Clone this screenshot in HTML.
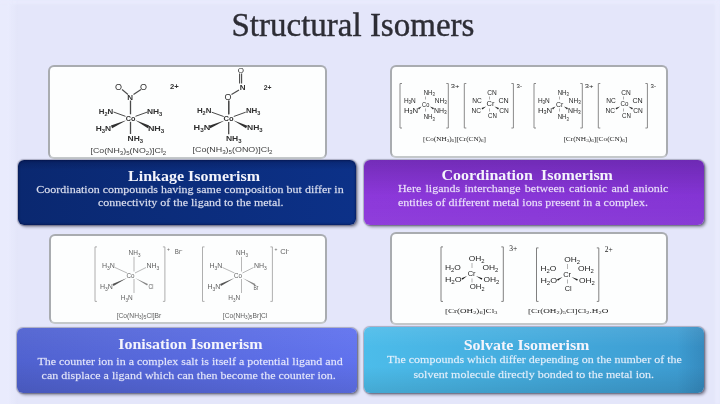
<!DOCTYPE html>
<html><head><meta charset="utf-8">
<style>
html,body{margin:0;padding:0;}
body{width:720px;height:404px;overflow:hidden;position:relative;background:#e4e6fa;font-family:"Liberation Serif",serif;}
.title{position:absolute;left:231.5px;top:8.6px;font-size:33px;line-height:33px;color:#2d2d35;white-space:nowrap;-webkit-text-stroke:0.4px #2d2d35;}
.wbox{position:absolute;background:#fdfefe;border:2px solid #a9acb0;border-bottom-color:#c4c8ca;border-radius:6px;box-sizing:border-box;}
.cbox{position:absolute;border-radius:7px;box-sizing:border-box;box-shadow:0 0 1px 0.5px rgba(40,40,70,0.3),2px 2px 3px rgba(30,30,50,0.45);border-radius:6px;}
.ln{position:absolute;color:#f4f4fc;white-space:nowrap;}
svg{position:absolute;left:0;top:0;}
#wrap{position:absolute;left:0;top:0;width:720px;height:404px;filter:blur(0.5px);}
</style></head><body>
<div id="wrap">
<div style="position:absolute;left:0;top:0;width:18px;height:404px;background:linear-gradient(to right,#e9ebfd,#e9ebfd 7px,rgba(233,235,253,0))"></div>
<div style="position:absolute;left:715px;top:0;width:5px;height:404px;background:#e9ebfd;filter:blur(1px)"></div>
<div style="position:absolute;left:0;top:0;width:720px;height:4px;background:#e9ebfd;filter:blur(1px)"></div>
<div class="title">Structural Isomers</div>
<div class="wbox" style="left:48px;top:65px;width:279px;height:94px;"></div>
<div class="wbox" style="left:389.5px;top:65px;width:278.5px;height:93px;"></div>
<div class="wbox" style="left:48.5px;top:234px;width:278.5px;height:90px;"></div>
<div class="wbox" style="left:390px;top:231.5px;width:278px;height:93.5px;"></div>
<svg width="720" height="404" viewBox="0 0 720 404">
<line x1="130.5" y1="100.5" x2="130.5" y2="134" stroke="#4a4a4a" stroke-width="1.3"/>
<line x1="113.5" y1="112" x2="126" y2="116.5" stroke="#4a4a4a" stroke-width="1.0"/>
<line x1="135" y1="116.5" x2="147.5" y2="112" stroke="#4a4a4a" stroke-width="1.0"/>
<polygon points="127,120 110.90,125.43 112.10,128.17" fill="#303030"/>
<polygon points="135,120 147.83,128.14 149.17,125.46" fill="#303030"/>
<rect x="125.5" y="114.3" width="10" height="7.5" fill="#fdfefe"/>
<text x="115.0" y="89.9" font-size="9" fill="#303030" font-family="Liberation Sans" font-weight="normal"><tspan font-size="9.00" dy="0.00">O</tspan></text>
<text x="140.0" y="89.9" font-size="9" fill="#303030" font-family="Liberation Sans" font-weight="normal"><tspan font-size="9.00" dy="0.00">O</tspan></text>
<text x="127.3" y="100.2" font-size="8" fill="#303030" font-family="Liberation Sans" font-weight="bold"><tspan font-size="8.00" dy="0.00">N</tspan></text>
<line x1="122" y1="89.5" x2="128" y2="94.5" stroke="#4a4a4a" stroke-width="1.1"/>
<line x1="141" y1="89.5" x2="133.5" y2="94.5" stroke="#4a4a4a" stroke-width="1.1"/>
<text x="170.0" y="89.4" font-size="7.5" fill="#303030" font-family="Liberation Sans" font-weight="bold" textLength="8.8" lengthAdjust="spacingAndGlyphs"><tspan font-size="7.50" dy="0.00">2+</tspan></text>
<text x="98.7" y="113.7" font-size="8" fill="#303030" font-family="Liberation Sans" font-weight="bold" textLength="14.5" lengthAdjust="spacingAndGlyphs"><tspan font-size="8.00" dy="0.00">H</tspan><tspan font-size="5.60" dy="2.00">2</tspan><tspan font-size="8.00" dy="-2.00">N</tspan></text>
<text x="147.0" y="113.7" font-size="8" fill="#303030" font-family="Liberation Sans" font-weight="bold" textLength="15.4" lengthAdjust="spacingAndGlyphs"><tspan font-size="8.00" dy="0.00">NH</tspan><tspan font-size="5.60" dy="2.00">3</tspan></text>
<text x="125.7" y="121.1" font-size="8" fill="#303030" font-family="Liberation Sans" font-weight="bold" textLength="9.7" lengthAdjust="spacingAndGlyphs"><tspan font-size="8.00" dy="0.00">Co</tspan></text>
<text x="95.8" y="131.1" font-size="8" fill="#303030" font-family="Liberation Sans" font-weight="bold" textLength="15.4" lengthAdjust="spacingAndGlyphs"><tspan font-size="8.00" dy="0.00">H</tspan><tspan font-size="5.60" dy="2.00">3</tspan><tspan font-size="8.00" dy="-2.00">N</tspan></text>
<text x="147.9" y="131.1" font-size="8" fill="#303030" font-family="Liberation Sans" font-weight="bold" textLength="16.4" lengthAdjust="spacingAndGlyphs"><tspan font-size="8.00" dy="0.00">NH</tspan><tspan font-size="5.60" dy="2.00">3</tspan></text>
<text x="127.6" y="140.7" font-size="8" fill="#303030" font-family="Liberation Sans" font-weight="bold" textLength="15.5" lengthAdjust="spacingAndGlyphs"><tspan font-size="8.00" dy="0.00">NH</tspan><tspan font-size="5.60" dy="2.00">3</tspan></text>
<text x="90.5" y="152.5" font-size="8" fill="#404040" font-family="Liberation Sans" font-weight="normal" textLength="75.8" lengthAdjust="spacingAndGlyphs"><tspan font-size="8.00" dy="0.00">[Co(NH</tspan><tspan font-size="5.60" dy="2.00">3</tspan><tspan font-size="8.00" dy="-2.00">)</tspan><tspan font-size="5.60" dy="2.00">5</tspan><tspan font-size="8.00" dy="-2.00">(NO</tspan><tspan font-size="5.60" dy="2.00">2</tspan><tspan font-size="8.00" dy="-2.00">)]Cl</tspan><tspan font-size="5.60" dy="2.00">2</tspan></text>
<line x1="228.7" y1="100.7" x2="228.7" y2="134.2" stroke="#4a4a4a" stroke-width="1.3"/>
<line x1="211.7" y1="112.2" x2="224.2" y2="116.7" stroke="#4a4a4a" stroke-width="1.0"/>
<line x1="233.2" y1="116.7" x2="245.7" y2="112.2" stroke="#4a4a4a" stroke-width="1.0"/>
<polygon points="225.2,120.2 209.10,125.63 210.30,128.37" fill="#303030"/>
<polygon points="233.2,120.2 246.03,128.34 247.37,125.66" fill="#303030"/>
<rect x="223.7" y="114.5" width="10" height="7.5" fill="#fdfefe"/>
<text x="237.8" y="73.2" font-size="8" fill="#303030" font-family="Liberation Sans" font-weight="normal"><tspan font-size="8.00" dy="0.00">O</tspan></text>
<line x1="239.6" y1="73.5" x2="239.6" y2="83.5" stroke="#4a4a4a" stroke-width="1.1"/>
<line x1="241.6" y1="73.5" x2="241.6" y2="83.5" stroke="#4a4a4a" stroke-width="1.1"/>
<text x="239.8" y="90.1" font-size="8" fill="#303030" font-family="Liberation Sans" font-weight="bold"><tspan font-size="8.00" dy="0.00">N</tspan></text>
<line x1="239" y1="90" x2="231.5" y2="94.5" stroke="#4a4a4a" stroke-width="1.1"/>
<text x="224.5" y="100.4" font-size="9" fill="#303030" font-family="Liberation Sans" font-weight="normal"><tspan font-size="9.00" dy="0.00">O</tspan></text>
<line x1="228.7" y1="100.5" x2="228.7" y2="114" stroke="#4a4a4a" stroke-width="1.3"/>
<text x="263.7" y="89.9" font-size="7.5" fill="#303030" font-family="Liberation Sans" font-weight="bold" textLength="7.8" lengthAdjust="spacingAndGlyphs"><tspan font-size="7.50" dy="0.00">2+</tspan></text>
<text x="196.9" y="113.4" font-size="8" fill="#303030" font-family="Liberation Sans" font-weight="bold" textLength="14.5" lengthAdjust="spacingAndGlyphs"><tspan font-size="8.00" dy="0.00">H</tspan><tspan font-size="5.60" dy="2.00">2</tspan><tspan font-size="8.00" dy="-2.00">N</tspan></text>
<text x="245.9" y="113.4" font-size="8" fill="#303030" font-family="Liberation Sans" font-weight="bold" textLength="14.5" lengthAdjust="spacingAndGlyphs"><tspan font-size="8.00" dy="0.00">NH</tspan><tspan font-size="5.60" dy="2.00">3</tspan></text>
<text x="223.6" y="121.2" font-size="8" fill="#303030" font-family="Liberation Sans" font-weight="bold" textLength="10.1" lengthAdjust="spacingAndGlyphs"><tspan font-size="8.00" dy="0.00">Co</tspan></text>
<text x="193.6" y="130.1" font-size="8" fill="#303030" font-family="Liberation Sans" font-weight="bold" textLength="16.7" lengthAdjust="spacingAndGlyphs"><tspan font-size="8.00" dy="0.00">H</tspan><tspan font-size="5.60" dy="2.00">3</tspan><tspan font-size="8.00" dy="-2.00">N</tspan></text>
<text x="247.0" y="130.1" font-size="8" fill="#303030" font-family="Liberation Sans" font-weight="bold" textLength="15.6" lengthAdjust="spacingAndGlyphs"><tspan font-size="8.00" dy="0.00">NH</tspan><tspan font-size="5.60" dy="2.00">3</tspan></text>
<text x="225.9" y="140.5" font-size="8" fill="#303030" font-family="Liberation Sans" font-weight="bold" textLength="15.6" lengthAdjust="spacingAndGlyphs"><tspan font-size="8.00" dy="0.00">NH</tspan><tspan font-size="5.60" dy="2.00">3</tspan></text>
<text x="192.5" y="151.9" font-size="8" fill="#404040" font-family="Liberation Sans" font-weight="normal" textLength="80.1" lengthAdjust="spacingAndGlyphs"><tspan font-size="8.00" dy="0.00">[Co(NH</tspan><tspan font-size="5.60" dy="2.00">3</tspan><tspan font-size="8.00" dy="-2.00">)</tspan><tspan font-size="5.60" dy="2.00">5</tspan><tspan font-size="8.00" dy="-2.00">(ONO)]Cl</tspan><tspan font-size="5.60" dy="2.00">2</tspan></text>
<polyline points="402,83.5 400,83.5 400,128 402,128" fill="none" stroke="#8a8a8a" stroke-width="1.0"/>
<polyline points="446.3,83.5 448.3,83.5 448.3,128 446.3,128" fill="none" stroke="#8a8a8a" stroke-width="1.0"/>
<text x="450.7" y="87.8" font-size="6" fill="#262626" font-family="Liberation Sans" font-weight="normal" textLength="8.7" lengthAdjust="spacingAndGlyphs"><tspan font-size="6.00" dy="0.00">3+</tspan></text>
<text x="423.7" y="94.6" font-size="6.5" fill="#262626" font-family="Liberation Sans" font-weight="normal" textLength="11.1" lengthAdjust="spacingAndGlyphs"><tspan font-size="6.50" dy="0.00">NH</tspan><tspan font-size="4.55" dy="1.62">3</tspan></text>
<text x="403.9" y="102.5" font-size="6.5" fill="#262626" font-family="Liberation Sans" font-weight="normal" textLength="11.9" lengthAdjust="spacingAndGlyphs"><tspan font-size="6.50" dy="0.00">H</tspan><tspan font-size="4.55" dy="1.62">3</tspan><tspan font-size="6.50" dy="-1.62">N</tspan></text>
<text x="434.8" y="102.5" font-size="6.5" fill="#262626" font-family="Liberation Sans" font-weight="normal" textLength="11.9" lengthAdjust="spacingAndGlyphs"><tspan font-size="6.50" dy="0.00">NH</tspan><tspan font-size="4.55" dy="1.62">3</tspan></text>
<text x="422.1" y="107.3" font-size="6.5" fill="#262626" font-family="Liberation Sans" font-weight="normal" textLength="7.2" lengthAdjust="spacingAndGlyphs"><tspan font-size="6.50" dy="0.00">Co</tspan></text>
<text x="403.9" y="112.8" font-size="6.5" fill="#262626" font-family="Liberation Sans" font-weight="normal" textLength="14.3" lengthAdjust="spacingAndGlyphs"><tspan font-size="6.50" dy="0.00">H</tspan><tspan font-size="4.55" dy="1.62">3</tspan><tspan font-size="6.50" dy="-1.62">N</tspan></text>
<text x="434.0" y="112.8" font-size="6.5" fill="#262626" font-family="Liberation Sans" font-weight="normal" textLength="12.7" lengthAdjust="spacingAndGlyphs"><tspan font-size="6.50" dy="0.00">NH</tspan><tspan font-size="4.55" dy="1.62">3</tspan></text>
<text x="423.7" y="119.1" font-size="6.5" fill="#262626" font-family="Liberation Sans" font-weight="normal" textLength="11.1" lengthAdjust="spacingAndGlyphs"><tspan font-size="6.50" dy="0.00">NH</tspan><tspan font-size="4.55" dy="1.62">3</tspan></text>
<line x1="425.5" y1="96.5" x2="425.5" y2="99.5" stroke="#8a8a8a" stroke-width="0.7"/>
<line x1="425.5" y1="108.5" x2="425.5" y2="111.5" stroke="#8a8a8a" stroke-width="0.7"/>
<polygon points="421.5,106.5 417.95,108.09 419.05,109.51" fill="#262626"/>
<polygon points="430,106.5 433.01,109.55 433.99,108.05" fill="#262626"/>
<polyline points="466.3,83.5 464.3,83.5 464.3,128 466.3,128" fill="none" stroke="#8a8a8a" stroke-width="1.0"/>
<polyline points="511.4,83.5 513.4,83.5 513.4,128 511.4,128" fill="none" stroke="#8a8a8a" stroke-width="1.0"/>
<text x="516.6" y="87.8" font-size="6" fill="#262626" font-family="Liberation Sans" font-weight="normal" textLength="5.4" lengthAdjust="spacingAndGlyphs"><tspan font-size="6.00" dy="0.00">3-</tspan></text>
<text x="487.3" y="94.6" font-size="6.5" fill="#262626" font-family="Liberation Sans" font-weight="normal" textLength="9.5" lengthAdjust="spacingAndGlyphs"><tspan font-size="6.50" dy="0.00">CN</tspan></text>
<text x="472.3" y="102.5" font-size="6.5" fill="#262626" font-family="Liberation Sans" font-weight="normal" textLength="9.5" lengthAdjust="spacingAndGlyphs"><tspan font-size="6.50" dy="0.00">NC</tspan></text>
<text x="498.4" y="102.5" font-size="6.5" fill="#262626" font-family="Liberation Sans" font-weight="normal" textLength="10.3" lengthAdjust="spacingAndGlyphs"><tspan font-size="6.50" dy="0.00">CN</tspan></text>
<text x="486.5" y="106.4" font-size="6.5" fill="#262626" font-family="Liberation Sans" font-weight="normal" textLength="7.9" lengthAdjust="spacingAndGlyphs"><tspan font-size="6.50" dy="0.00">Cr</tspan></text>
<text x="471.5" y="112.8" font-size="6.5" fill="#262626" font-family="Liberation Sans" font-weight="normal" textLength="9.5" lengthAdjust="spacingAndGlyphs"><tspan font-size="6.50" dy="0.00">NC</tspan></text>
<text x="499.2" y="112.8" font-size="6.5" fill="#262626" font-family="Liberation Sans" font-weight="normal" textLength="9.5" lengthAdjust="spacingAndGlyphs"><tspan font-size="6.50" dy="0.00">CN</tspan></text>
<text x="488.0" y="118.3" font-size="6.5" fill="#262626" font-family="Liberation Sans" font-weight="normal" textLength="8.8" lengthAdjust="spacingAndGlyphs"><tspan font-size="6.50" dy="0.00">CN</tspan></text>
<line x1="489.5" y1="96.5" x2="489.5" y2="99.5" stroke="#8a8a8a" stroke-width="0.7"/>
<line x1="489.5" y1="108.5" x2="489.5" y2="111.5" stroke="#8a8a8a" stroke-width="0.7"/>
<polygon points="486,106.5 481.55,108.02 482.45,109.58" fill="#262626"/>
<polygon points="494.5,106.5 498.05,109.58 498.95,108.02" fill="#262626"/>
<polyline points="536,83.5 534,83.5 534,128 536,128" fill="none" stroke="#8a8a8a" stroke-width="1.0"/>
<polyline points="580.3,83.5 582.3,83.5 582.3,128 580.3,128" fill="none" stroke="#8a8a8a" stroke-width="1.0"/>
<text x="584.7" y="87.8" font-size="6" fill="#262626" font-family="Liberation Sans" font-weight="normal" textLength="8.7" lengthAdjust="spacingAndGlyphs"><tspan font-size="6.00" dy="0.00">3+</tspan></text>
<text x="557.7" y="94.6" font-size="6.5" fill="#262626" font-family="Liberation Sans" font-weight="normal" textLength="11.1" lengthAdjust="spacingAndGlyphs"><tspan font-size="6.50" dy="0.00">NH</tspan><tspan font-size="4.55" dy="1.62">3</tspan></text>
<text x="537.9" y="102.5" font-size="6.5" fill="#262626" font-family="Liberation Sans" font-weight="normal" textLength="11.9" lengthAdjust="spacingAndGlyphs"><tspan font-size="6.50" dy="0.00">H</tspan><tspan font-size="4.55" dy="1.62">3</tspan><tspan font-size="6.50" dy="-1.62">N</tspan></text>
<text x="568.8" y="102.5" font-size="6.5" fill="#262626" font-family="Liberation Sans" font-weight="normal" textLength="11.9" lengthAdjust="spacingAndGlyphs"><tspan font-size="6.50" dy="0.00">NH</tspan><tspan font-size="4.55" dy="1.62">3</tspan></text>
<text x="556.1" y="107.3" font-size="6.5" fill="#262626" font-family="Liberation Sans" font-weight="normal" textLength="7.2" lengthAdjust="spacingAndGlyphs"><tspan font-size="6.50" dy="0.00">Cr</tspan></text>
<text x="537.9" y="112.8" font-size="6.5" fill="#262626" font-family="Liberation Sans" font-weight="normal" textLength="14.3" lengthAdjust="spacingAndGlyphs"><tspan font-size="6.50" dy="0.00">H</tspan><tspan font-size="4.55" dy="1.62">3</tspan><tspan font-size="6.50" dy="-1.62">N</tspan></text>
<text x="568.0" y="112.8" font-size="6.5" fill="#262626" font-family="Liberation Sans" font-weight="normal" textLength="12.7" lengthAdjust="spacingAndGlyphs"><tspan font-size="6.50" dy="0.00">NH</tspan><tspan font-size="4.55" dy="1.62">3</tspan></text>
<text x="557.7" y="119.1" font-size="6.5" fill="#262626" font-family="Liberation Sans" font-weight="normal" textLength="11.1" lengthAdjust="spacingAndGlyphs"><tspan font-size="6.50" dy="0.00">NH</tspan><tspan font-size="4.55" dy="1.62">3</tspan></text>
<line x1="559.5" y1="96.5" x2="559.5" y2="99.5" stroke="#8a8a8a" stroke-width="0.7"/>
<line x1="559.5" y1="108.5" x2="559.5" y2="111.5" stroke="#8a8a8a" stroke-width="0.7"/>
<polygon points="555.5,106.5 551.95,108.09 553.05,109.51" fill="#262626"/>
<polygon points="564,106.5 567.01,109.55 567.99,108.05" fill="#262626"/>
<polyline points="600.3,83.5 598.3,83.5 598.3,128 600.3,128" fill="none" stroke="#8a8a8a" stroke-width="1.0"/>
<polyline points="645.4,83.5 647.4,83.5 647.4,128 645.4,128" fill="none" stroke="#8a8a8a" stroke-width="1.0"/>
<text x="650.6" y="87.8" font-size="6" fill="#262626" font-family="Liberation Sans" font-weight="normal" textLength="5.4" lengthAdjust="spacingAndGlyphs"><tspan font-size="6.00" dy="0.00">3-</tspan></text>
<text x="621.3" y="94.6" font-size="6.5" fill="#262626" font-family="Liberation Sans" font-weight="normal" textLength="9.5" lengthAdjust="spacingAndGlyphs"><tspan font-size="6.50" dy="0.00">CN</tspan></text>
<text x="606.3" y="102.5" font-size="6.5" fill="#262626" font-family="Liberation Sans" font-weight="normal" textLength="9.5" lengthAdjust="spacingAndGlyphs"><tspan font-size="6.50" dy="0.00">NC</tspan></text>
<text x="632.4" y="102.5" font-size="6.5" fill="#262626" font-family="Liberation Sans" font-weight="normal" textLength="10.3" lengthAdjust="spacingAndGlyphs"><tspan font-size="6.50" dy="0.00">CN</tspan></text>
<text x="620.5" y="106.4" font-size="6.5" fill="#262626" font-family="Liberation Sans" font-weight="normal" textLength="7.9" lengthAdjust="spacingAndGlyphs"><tspan font-size="6.50" dy="0.00">Co</tspan></text>
<text x="605.5" y="112.8" font-size="6.5" fill="#262626" font-family="Liberation Sans" font-weight="normal" textLength="9.5" lengthAdjust="spacingAndGlyphs"><tspan font-size="6.50" dy="0.00">NC</tspan></text>
<text x="633.2" y="112.8" font-size="6.5" fill="#262626" font-family="Liberation Sans" font-weight="normal" textLength="9.5" lengthAdjust="spacingAndGlyphs"><tspan font-size="6.50" dy="0.00">CN</tspan></text>
<text x="622.0" y="118.3" font-size="6.5" fill="#262626" font-family="Liberation Sans" font-weight="normal" textLength="8.8" lengthAdjust="spacingAndGlyphs"><tspan font-size="6.50" dy="0.00">CN</tspan></text>
<line x1="623.5" y1="96.5" x2="623.5" y2="99.5" stroke="#8a8a8a" stroke-width="0.7"/>
<line x1="623.5" y1="108.5" x2="623.5" y2="111.5" stroke="#8a8a8a" stroke-width="0.7"/>
<polygon points="620,106.5 615.55,108.02 616.45,109.58" fill="#262626"/>
<polygon points="628.5,106.5 632.05,109.58 632.95,108.02" fill="#262626"/>
<text x="423.0" y="140.8" font-size="6.5" fill="#222" font-family="Liberation Serif" font-weight="normal" textLength="63.0" lengthAdjust="spacingAndGlyphs"><tspan font-size="6.50" dy="0.00">[Co(NH</tspan><tspan font-size="4.55" dy="1.62">3</tspan><tspan font-size="6.50" dy="-1.62">)</tspan><tspan font-size="4.55" dy="1.62">6</tspan><tspan font-size="6.50" dy="-1.62">][Cr(CN)</tspan><tspan font-size="4.55" dy="1.62">6</tspan><tspan font-size="6.50" dy="-1.62">]</tspan></text>
<text x="563.4" y="140.8" font-size="6.5" fill="#222" font-family="Liberation Serif" font-weight="normal" textLength="63.8" lengthAdjust="spacingAndGlyphs"><tspan font-size="6.50" dy="0.00">[Cr(NH</tspan><tspan font-size="4.55" dy="1.62">3</tspan><tspan font-size="6.50" dy="-1.62">)</tspan><tspan font-size="4.55" dy="1.62">6</tspan><tspan font-size="6.50" dy="-1.62">][Co(CN)</tspan><tspan font-size="4.55" dy="1.62">6</tspan><tspan font-size="6.50" dy="-1.62">]</tspan></text>
<polyline points="97,246.9 95,246.9 95,301.4 97,301.4" fill="none" stroke="#9a9a9a" stroke-width="0.8"/>
<polyline points="162.9,246.9 164.9,246.9 164.9,301.4 162.9,301.4" fill="none" stroke="#9a9a9a" stroke-width="0.8"/>
<text x="128.6" y="255.4" font-size="7" fill="#5e5e5e" font-family="Liberation Sans" font-weight="normal" textLength="11.9" lengthAdjust="spacingAndGlyphs"><tspan font-size="7.00" dy="0.00">NH</tspan><tspan font-size="4.90" dy="1.75">3</tspan></text>
<line x1="134" y1="256.8" x2="134" y2="271.5" stroke="#9a9a9a" stroke-width="0.7"/>
<line x1="134" y1="279" x2="134" y2="293" stroke="#9a9a9a" stroke-width="0.7"/>
<text x="101.9" y="268.2" font-size="7" fill="#5e5e5e" font-family="Liberation Sans" font-weight="normal" textLength="12.9" lengthAdjust="spacingAndGlyphs"><tspan font-size="7.00" dy="0.00">H</tspan><tspan font-size="4.90" dy="1.75">3</tspan><tspan font-size="7.00" dy="-1.75">N</tspan></text>
<text x="146.4" y="268.2" font-size="7" fill="#5e5e5e" font-family="Liberation Sans" font-weight="normal" textLength="12.9" lengthAdjust="spacingAndGlyphs"><tspan font-size="7.00" dy="0.00">NH</tspan><tspan font-size="4.90" dy="1.75">3</tspan></text>
<text x="126.6" y="278.1" font-size="7" fill="#5e5e5e" font-family="Liberation Sans" font-weight="normal" textLength="8.0" lengthAdjust="spacingAndGlyphs"><tspan font-size="7.00" dy="0.00">Co</tspan></text>
<text x="99.9" y="289.0" font-size="7" fill="#5e5e5e" font-family="Liberation Sans" font-weight="normal" textLength="12.9" lengthAdjust="spacingAndGlyphs"><tspan font-size="7.00" dy="0.00">H</tspan><tspan font-size="4.90" dy="1.75">3</tspan><tspan font-size="7.00" dy="-1.75">N</tspan></text>
<text x="120.7" y="299.9" font-size="7" fill="#5e5e5e" font-family="Liberation Sans" font-weight="normal" textLength="11.9" lengthAdjust="spacingAndGlyphs"><tspan font-size="7.00" dy="0.00">H</tspan><tspan font-size="4.90" dy="1.75">3</tspan><tspan font-size="7.00" dy="-1.75">N</tspan></text>
<line x1="115" y1="267.5" x2="127" y2="273" stroke="#9a9a9a" stroke-width="0.7"/>
<line x1="135" y1="273" x2="146" y2="267.5" stroke="#9a9a9a" stroke-width="0.7"/>
<polygon points="127,278 112.55,284.11 113.45,285.89" fill="#555"/>
<polygon points="135,278 147.07,285.59 147.93,284.01" fill="#888"/>
<text x="148.4" y="289.0" font-size="7" fill="#5e5e5e" font-family="Liberation Sans" font-weight="normal" textLength="5.0" lengthAdjust="spacingAndGlyphs"><tspan font-size="7.00" dy="0.00">Cl</tspan></text>
<text x="167.0" y="250.8" font-size="5" fill="#5e5e5e" font-family="Liberation Sans" font-weight="normal"><tspan font-size="5.00" dy="0.00">+</tspan></text>
<text x="174.8" y="254.0" font-size="7" fill="#5e5e5e" font-family="Liberation Sans" font-weight="normal" textLength="7.6" lengthAdjust="spacingAndGlyphs"><tspan font-size="7.00" dy="0.00">Br</tspan><tspan font-size="4.90" dy="-2.45">-</tspan></text>
<text x="116.7" y="317.7" font-size="7" fill="#5e5e5e" font-family="Liberation Sans" font-weight="normal" textLength="44.6" lengthAdjust="spacingAndGlyphs"><tspan font-size="7.00" dy="0.00">[Co(NH</tspan><tspan font-size="4.90" dy="1.75">3</tspan><tspan font-size="7.00" dy="-1.75">)</tspan><tspan font-size="4.90" dy="1.75">5</tspan><tspan font-size="7.00" dy="-1.75">Cl]Br</tspan></text>
<polyline points="204.5,246.9 202.5,246.9 202.5,301.4 204.5,301.4" fill="none" stroke="#9a9a9a" stroke-width="0.8"/>
<polyline points="270.4,246.9 272.4,246.9 272.4,301.4 270.4,301.4" fill="none" stroke="#9a9a9a" stroke-width="0.8"/>
<text x="236.1" y="255.4" font-size="7" fill="#5e5e5e" font-family="Liberation Sans" font-weight="normal" textLength="11.9" lengthAdjust="spacingAndGlyphs"><tspan font-size="7.00" dy="0.00">NH</tspan><tspan font-size="4.90" dy="1.75">3</tspan></text>
<line x1="241.5" y1="256.8" x2="241.5" y2="271.5" stroke="#9a9a9a" stroke-width="0.7"/>
<line x1="241.5" y1="279" x2="241.5" y2="293" stroke="#9a9a9a" stroke-width="0.7"/>
<text x="209.4" y="268.2" font-size="7" fill="#5e5e5e" font-family="Liberation Sans" font-weight="normal" textLength="12.9" lengthAdjust="spacingAndGlyphs"><tspan font-size="7.00" dy="0.00">H</tspan><tspan font-size="4.90" dy="1.75">3</tspan><tspan font-size="7.00" dy="-1.75">N</tspan></text>
<text x="253.9" y="268.2" font-size="7" fill="#5e5e5e" font-family="Liberation Sans" font-weight="normal" textLength="12.9" lengthAdjust="spacingAndGlyphs"><tspan font-size="7.00" dy="0.00">NH</tspan><tspan font-size="4.90" dy="1.75">3</tspan></text>
<text x="234.1" y="278.1" font-size="7" fill="#5e5e5e" font-family="Liberation Sans" font-weight="normal" textLength="8.0" lengthAdjust="spacingAndGlyphs"><tspan font-size="7.00" dy="0.00">Co</tspan></text>
<text x="207.4" y="289.0" font-size="7" fill="#5e5e5e" font-family="Liberation Sans" font-weight="normal" textLength="12.9" lengthAdjust="spacingAndGlyphs"><tspan font-size="7.00" dy="0.00">H</tspan><tspan font-size="4.90" dy="1.75">3</tspan><tspan font-size="7.00" dy="-1.75">N</tspan></text>
<text x="228.2" y="299.9" font-size="7" fill="#5e5e5e" font-family="Liberation Sans" font-weight="normal" textLength="11.9" lengthAdjust="spacingAndGlyphs"><tspan font-size="7.00" dy="0.00">H</tspan><tspan font-size="4.90" dy="1.75">3</tspan><tspan font-size="7.00" dy="-1.75">N</tspan></text>
<line x1="222.5" y1="267.5" x2="234.5" y2="273" stroke="#9a9a9a" stroke-width="0.7"/>
<line x1="242.5" y1="273" x2="253.5" y2="267.5" stroke="#9a9a9a" stroke-width="0.7"/>
<polygon points="234.5,278 220.05,284.11 220.95,285.89" fill="#555"/>
<polygon points="242.5,278 254.57,285.59 255.43,284.01" fill="#888"/>
<text x="253.4" y="289.5" font-size="7" fill="#5e5e5e" font-family="Liberation Sans" font-weight="normal" textLength="5.0" lengthAdjust="spacingAndGlyphs"><tspan font-size="7.00" dy="0.00">Br</tspan></text>
<text x="274.5" y="250.8" font-size="5" fill="#5e5e5e" font-family="Liberation Sans" font-weight="normal"><tspan font-size="5.00" dy="0.00">+</tspan></text>
<text x="280.2" y="254.0" font-size="7" fill="#5e5e5e" font-family="Liberation Sans" font-weight="normal" textLength="8.9" lengthAdjust="spacingAndGlyphs"><tspan font-size="7.00" dy="0.00">Cl</tspan><tspan font-size="4.90" dy="-2.45">-</tspan></text>
<text x="222.8" y="317.7" font-size="7" fill="#5e5e5e" font-family="Liberation Sans" font-weight="normal" textLength="44.5" lengthAdjust="spacingAndGlyphs"><tspan font-size="7.00" dy="0.00">[Co(NH</tspan><tspan font-size="4.90" dy="1.75">3</tspan><tspan font-size="7.00" dy="-1.75">)</tspan><tspan font-size="4.90" dy="1.75">5</tspan><tspan font-size="7.00" dy="-1.75">Br]Cl</tspan></text>
<polyline points="443,246.9 441,246.9 441,301.4 443,301.4" fill="none" stroke="#808080" stroke-width="1.0"/>
<polyline points="501.3,246.9 503.3,246.9 503.3,301.4 501.3,301.4" fill="none" stroke="#808080" stroke-width="1.0"/>
<text x="509.3" y="250.7" font-size="7.5" fill="#1e1e1e" font-family="Liberation Serif" font-weight="normal"><tspan font-size="7.50" dy="0.00">3+</tspan></text>
<text x="468.7" y="261.3" font-size="7" fill="#1e1e1e" font-family="Liberation Sans" font-weight="normal" textLength="15.8" lengthAdjust="spacingAndGlyphs"><tspan font-size="7.00" dy="0.00">OH</tspan><tspan font-size="4.90" dy="1.75">2</tspan></text>
<text x="444.9" y="270.2" font-size="7" fill="#1e1e1e" font-family="Liberation Sans" font-weight="normal" textLength="15.9" lengthAdjust="spacingAndGlyphs"><tspan font-size="7.00" dy="0.00">H</tspan><tspan font-size="4.90" dy="1.75">2</tspan><tspan font-size="7.00" dy="-1.75">O</tspan></text>
<text x="482.5" y="270.2" font-size="7" fill="#1e1e1e" font-family="Liberation Sans" font-weight="normal" textLength="15.9" lengthAdjust="spacingAndGlyphs"><tspan font-size="7.00" dy="0.00">OH</tspan><tspan font-size="4.90" dy="1.75">2</tspan></text>
<text x="467.7" y="276.2" font-size="7" fill="#1e1e1e" font-family="Liberation Sans" font-weight="normal" textLength="7.9" lengthAdjust="spacingAndGlyphs"><tspan font-size="7.00" dy="0.00">Cr</tspan></text>
<text x="444.9" y="282.1" font-size="7" fill="#1e1e1e" font-family="Liberation Sans" font-weight="normal" textLength="16.8" lengthAdjust="spacingAndGlyphs"><tspan font-size="7.00" dy="0.00">H</tspan><tspan font-size="4.90" dy="1.75">2</tspan><tspan font-size="7.00" dy="-1.75">O</tspan></text>
<text x="483.5" y="282.1" font-size="7" fill="#1e1e1e" font-family="Liberation Sans" font-weight="normal" textLength="15.9" lengthAdjust="spacingAndGlyphs"><tspan font-size="7.00" dy="0.00">OH</tspan><tspan font-size="4.90" dy="1.75">2</tspan></text>
<line x1="472" y1="263" x2="472" y2="268" stroke="#808080" stroke-width="0.6"/>
<line x1="472" y1="278.5" x2="472" y2="282.5" stroke="#808080" stroke-width="0.6"/>
<polygon points="467,276 461.54,278.23 462.46,279.77" fill="#1e1e1e"/>
<polygon points="476,276 481.60,279.80 482.40,278.20" fill="#1e1e1e"/>
<text x="469.7" y="289.0" font-size="7" fill="#1e1e1e" font-family="Liberation Sans" font-weight="normal" textLength="14.8" lengthAdjust="spacingAndGlyphs"><tspan font-size="7.00" dy="0.00">OH</tspan><tspan font-size="4.90" dy="1.75">2</tspan></text>
<text x="444.9" y="312.6" font-size="6.5" fill="#1a1a1a" font-family="Liberation Serif" font-weight="normal" textLength="52.5" lengthAdjust="spacingAndGlyphs"><tspan font-size="6.50" dy="0.00">[Cr(OH</tspan><tspan font-size="4.55" dy="1.62">2</tspan><tspan font-size="6.50" dy="-1.62">)</tspan><tspan font-size="4.55" dy="1.62">6</tspan><tspan font-size="6.50" dy="-1.62">]Cl</tspan><tspan font-size="4.55" dy="1.62">3</tspan></text>
<polyline points="538.5,247.9 536.5,247.9 536.5,301.4 538.5,301.4" fill="none" stroke="#808080" stroke-width="1.0"/>
<polyline points="596.8,247.9 598.8,247.9 598.8,301.4 596.8,301.4" fill="none" stroke="#808080" stroke-width="1.0"/>
<text x="604.8" y="251.7" font-size="7.5" fill="#1e1e1e" font-family="Liberation Serif" font-weight="normal"><tspan font-size="7.50" dy="0.00">2+</tspan></text>
<text x="564.2" y="262.3" font-size="7" fill="#1e1e1e" font-family="Liberation Sans" font-weight="normal" textLength="15.8" lengthAdjust="spacingAndGlyphs"><tspan font-size="7.00" dy="0.00">OH</tspan><tspan font-size="4.90" dy="1.75">2</tspan></text>
<text x="540.4" y="271.2" font-size="7" fill="#1e1e1e" font-family="Liberation Sans" font-weight="normal" textLength="15.9" lengthAdjust="spacingAndGlyphs"><tspan font-size="7.00" dy="0.00">H</tspan><tspan font-size="4.90" dy="1.75">2</tspan><tspan font-size="7.00" dy="-1.75">O</tspan></text>
<text x="578.0" y="271.2" font-size="7" fill="#1e1e1e" font-family="Liberation Sans" font-weight="normal" textLength="15.9" lengthAdjust="spacingAndGlyphs"><tspan font-size="7.00" dy="0.00">OH</tspan><tspan font-size="4.90" dy="1.75">2</tspan></text>
<text x="563.2" y="277.2" font-size="7" fill="#1e1e1e" font-family="Liberation Sans" font-weight="normal" textLength="7.9" lengthAdjust="spacingAndGlyphs"><tspan font-size="7.00" dy="0.00">Cr</tspan></text>
<text x="540.4" y="283.1" font-size="7" fill="#1e1e1e" font-family="Liberation Sans" font-weight="normal" textLength="16.8" lengthAdjust="spacingAndGlyphs"><tspan font-size="7.00" dy="0.00">H</tspan><tspan font-size="4.90" dy="1.75">2</tspan><tspan font-size="7.00" dy="-1.75">O</tspan></text>
<text x="579.0" y="283.1" font-size="7" fill="#1e1e1e" font-family="Liberation Sans" font-weight="normal" textLength="15.9" lengthAdjust="spacingAndGlyphs"><tspan font-size="7.00" dy="0.00">OH</tspan><tspan font-size="4.90" dy="1.75">2</tspan></text>
<line x1="567.5" y1="264" x2="567.5" y2="269" stroke="#808080" stroke-width="0.6"/>
<line x1="567.5" y1="279.5" x2="567.5" y2="283.5" stroke="#808080" stroke-width="0.6"/>
<polygon points="562.5,277 557.04,279.23 557.96,280.77" fill="#1e1e1e"/>
<polygon points="571.5,277 577.10,280.80 577.90,279.20" fill="#1e1e1e"/>
<text x="564.7" y="291.1" font-size="7" fill="#1e1e1e" font-family="Liberation Sans" font-weight="normal" textLength="6.9" lengthAdjust="spacingAndGlyphs"><tspan font-size="7.00" dy="0.00">Cl</tspan></text>
<text x="528.0" y="312.7" font-size="6.5" fill="#1a1a1a" font-family="Liberation Serif" font-weight="normal" textLength="80.3" lengthAdjust="spacingAndGlyphs"><tspan font-size="6.50" dy="0.00">[Cr(OH</tspan><tspan font-size="4.55" dy="1.62">2</tspan><tspan font-size="6.50" dy="-1.62">)</tspan><tspan font-size="4.55" dy="1.62">5</tspan><tspan font-size="6.50" dy="-1.62">Cl]Cl</tspan><tspan font-size="4.55" dy="1.62">2</tspan><tspan font-size="6.50" dy="-1.62">.H</tspan><tspan font-size="4.55" dy="1.62">2</tspan><tspan font-size="6.50" dy="-1.62">O</tspan></text>
</svg>
<div class="cbox" style="left:18px;top:160px;width:338px;height:65px;background:linear-gradient(rgba(0,0,30,0.2),rgba(0,0,0,0) 15%),linear-gradient(to right,#0a2870,#0c3188);box-shadow:inset 0 0 2px 1px rgba(0,0,40,0.35),0 0 1px 0.5px rgba(40,40,70,0.3),2px 2px 3px rgba(30,30,50,0.45);"></div>
<div class="cbox" style="left:363.5px;top:160px;width:340.5px;height:65px;background:linear-gradient(rgba(20,0,50,0.2),rgba(0,0,0,0) 55%,rgba(255,255,255,0.03)),linear-gradient(to right,#8c38da,#8434d4);"></div>
<div class="cbox" style="left:17px;top:327.5px;width:340px;height:65px;background:linear-gradient(rgba(255,255,255,0.05),rgba(0,0,0,0) 50%,rgba(0,0,0,0.1)),linear-gradient(to right,#5062d0,#6072ee);"></div>
<div class="cbox" style="left:364px;top:326.5px;width:340px;height:66px;background:linear-gradient(rgba(255,255,255,0.08),rgba(255,255,255,0) 30%,rgba(0,0,0,0) 60%,rgba(0,0,0,0.1)),linear-gradient(to right,rgba(0,0,0,0) 92%,rgba(0,20,60,0.12)),linear-gradient(to right,#4cbcea,#3c9ad0);"></div>
<div class="ln" style="left:128.1px;top:167.5px;font-size:16px;line-height:16px;font-weight:bold;transform:scaleY(0.95);transform-origin:0 13px;">Linkage Isomerism</div>
<div class="ln" style="left:36.3px;top:182.7px;font-size:12px;line-height:12px;font-weight:normal;color:rgba(248,248,255,0.86);transform:scaleY(0.92);transform-origin:0 10px;-webkit-text-stroke:0.3px rgba(248,248,255,0.5);">Coordination compounds having same composition but differ in</div>
<div class="ln" style="left:98px;top:195.8px;font-size:12px;line-height:12px;font-weight:normal;color:rgba(248,248,255,0.86);transform:scaleY(0.92);transform-origin:0 10px;-webkit-text-stroke:0.3px rgba(248,248,255,0.5);">connectivity of the ligand to the metal.</div>
<div class="ln" style="left:441.4px;top:167px;font-size:16px;line-height:16px;font-weight:bold;transform:scaleY(0.95);transform-origin:0 13px;">Coordination&nbsp; Isomerism</div>
<div class="ln" style="left:397.9px;top:182.3px;font-size:12px;line-height:12px;font-weight:normal;color:rgba(248,248,255,0.86);transform:scaleY(0.92);transform-origin:0 10px;-webkit-text-stroke:0.3px rgba(248,248,255,0.5);width:270.5px;text-align:justify;text-align-last:justify;white-space:normal;">Here ligands interchange between cationic and anionic</div>
<div class="ln" style="left:397.9px;top:195.9px;font-size:12px;line-height:12px;font-weight:normal;color:rgba(248,248,255,0.86);transform:scaleY(0.92);transform-origin:0 10px;-webkit-text-stroke:0.3px rgba(248,248,255,0.5);">entities of different metal ions present in a complex.</div>
<div class="ln" style="left:118.2px;top:336px;font-size:16px;line-height:16px;font-weight:bold;transform:scaleY(0.95);transform-origin:0 13px;">Ionisation Isomerism</div>
<div class="ln" style="left:37.4px;top:354.9px;font-size:12px;line-height:12px;font-weight:normal;color:rgba(248,248,255,0.86);transform:scaleY(0.92);transform-origin:0 10px;-webkit-text-stroke:0.3px rgba(248,248,255,0.5);">The counter ion in a complex salt is itself a potential ligand and</div>
<div class="ln" style="left:41.6px;top:369px;font-size:12px;line-height:12px;font-weight:normal;color:rgba(248,248,255,0.86);transform:scaleY(0.92);transform-origin:0 10px;-webkit-text-stroke:0.3px rgba(248,248,255,0.5);">can displace a ligand which can then become the counter ion.</div>
<div class="ln" style="left:463.7px;top:337px;font-size:16px;line-height:16px;font-weight:bold;transform:scaleY(0.95);transform-origin:0 13px;">Solvate Isomerism</div>
<div class="ln" style="left:387.1px;top:353.2px;font-size:12px;line-height:12px;font-weight:normal;color:rgba(248,248,255,0.86);transform:scaleY(0.92);transform-origin:0 10px;-webkit-text-stroke:0.3px rgba(248,248,255,0.5);">The compounds which differ depending on the number of the</div>
<div class="ln" style="left:413.4px;top:367.5px;font-size:12px;line-height:12px;font-weight:normal;color:rgba(248,248,255,0.86);transform:scaleY(0.92);transform-origin:0 10px;-webkit-text-stroke:0.3px rgba(248,248,255,0.5);">solvent molecule directly bonded to the metal ion.</div>
</div>
</body></html>
